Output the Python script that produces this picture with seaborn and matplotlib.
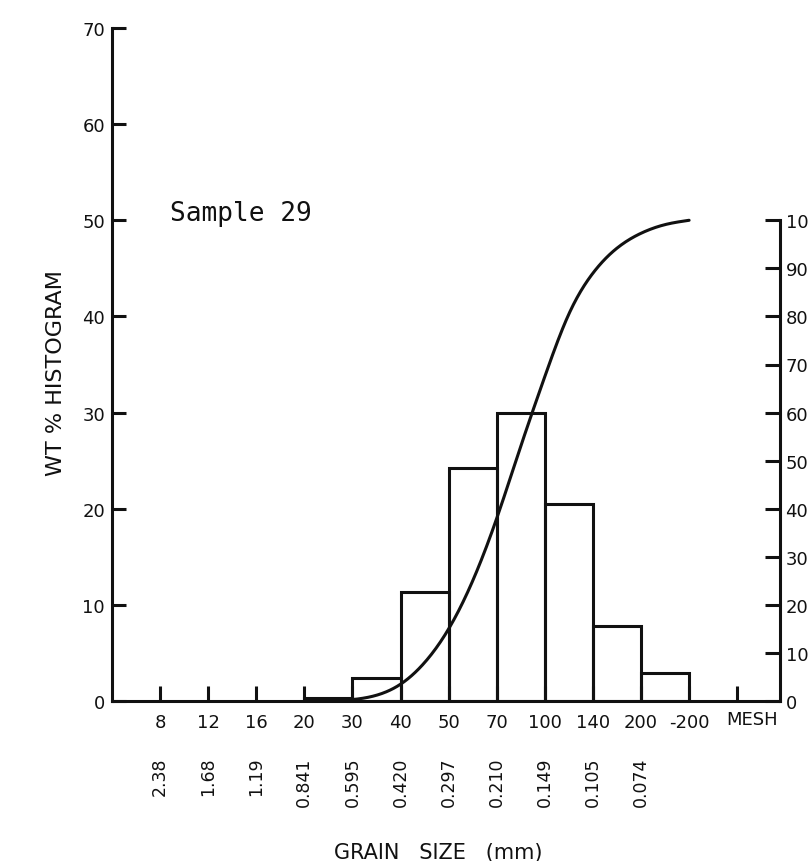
import numpy as np
import matplotlib
matplotlib.use("Agg")
import matplotlib.pyplot as plt
import seaborn as sns

# Sieve openings (mesh) and equivalent grain size in mm
mesh_labels = ["8", "12", "16", "20", "30", "40", "50", "70", "100", "140", "200", "-200"]
mm_labels = ["2.38", "1.68", "1.19", "0.841", "0.595", "0.420", "0.297",
             "0.210", "0.149", "0.105", "0.074"]

# Weight percent retained between successive sieves (20-30 ... 200 to -200)
bin_edges = [3, 4, 5, 6, 7, 8, 9, 10, 11]
wt_percent = [0.3, 2.4, 11.3, 24.2, 30.0, 20.5, 7.8, 2.9]

# Cumulative weight percent curve (right-hand scale)
cum_x = [3.5, 4.0, 4.5, 5.0, 5.5, 6.0, 6.5, 7.0, 7.5, 8.0, 8.5, 9.0, 9.5, 10.0, 10.5, 11.0]
cum_pct = [0.0, 0.3, 1.2, 3.5, 8.0, 15.0, 25.0, 38.0, 53.0, 67.5, 80.5, 89.0, 94.2, 97.3, 99.1, 100.0]


def natural_spline(x, y, xn):
    """Natural cubic spline through the given points."""
    x = np.asarray(x, float)
    y = np.asarray(y, float)
    n = len(x)
    h = np.diff(x)
    A = np.zeros((n, n))
    r = np.zeros(n)
    A[0, 0] = A[-1, -1] = 1.0
    for i in range(1, n - 1):
        A[i, i - 1] = h[i - 1]
        A[i, i] = 2 * (h[i - 1] + h[i])
        A[i, i + 1] = h[i]
        r[i] = 6 * ((y[i + 1] - y[i]) / h[i] - (y[i] - y[i - 1]) / h[i - 1])
    M = np.linalg.solve(A, r)
    k = np.clip(np.searchsorted(x, xn) - 1, 0, n - 2)
    dx1 = x[k + 1] - xn
    dx0 = xn - x[k]
    hk = h[k]
    return (M[k] * dx1**3 / (6 * hk) + M[k + 1] * dx0**3 / (6 * hk)
            + (y[k] / hk - M[k] * hk / 6) * dx1
            + (y[k + 1] / hk - M[k + 1] * hk / 6) * dx0)


sns.set_style("white")
plt.rcParams["font.family"] = ["DejaVu Sans"]

W, H = 809, 862
fig = plt.figure(figsize=(W / 100, H / 100), dpi=100)
ax = fig.add_axes([112 / W, 1 - 702 / H, (780 - 112) / W, (702 - 29) / H])

lw = 2.2
ink = "#111111"

centers = [(a + b) / 2 for a, b in zip(bin_edges[:-1], bin_edges[1:])]
sns.histplot(x=centers, weights=wt_percent, bins=bin_edges, fill=False,
             element="bars", color=ink, linewidth=lw, ax=ax)

ax.set_xlim(-1, 12.89)
ax.set_ylim(0, 70)
ax.set_xlabel("")
ax.set_ylabel("WT % HISTOGRAM", fontsize=16, color=ink)
ax.yaxis.set_label_coords(-0.069, 0.489)

ax.set_yticks(range(0, 71, 10))
ax.set_xticks(list(range(0, 13)))
ax.set_xticklabels(mesh_labels + [""])
ax.tick_params(axis="y", direction="in", length=10, width=lw, pad=5,
               labelsize=13, colors=ink, left=True)
ax.tick_params(axis="x", direction="in", length=11, width=lw, pad=9,
               labelsize=13, colors=ink, bottom=True)

for s in ["top", "right"]:
    ax.spines[s].set_visible(False)
for s in ["left", "bottom"]:
    ax.spines[s].set_linewidth(lw)
    ax.spines[s].set_color(ink)

ax.text(11.78, -0.027, "MESH", transform=ax.get_xaxis_transform(),
        ha="left", va="center", fontsize=13, color=ink)

for i, lab in enumerate(mm_labels):
    ax.text(i, -0.082, lab, transform=ax.get_xaxis_transform(),
            rotation=90, ha="center", va="top", fontsize=12.5, color=ink)

fig.text(438 / W, 1 - 853 / H, "GRAIN   SIZE   (mm)", ha="center",
         va="center", fontsize=15, color=ink)

ax.text(0.21, 50, "Sample 29", family="DejaVu Sans Mono", fontsize=18.8,
        ha="left", va="baseline", color=ink)

# Cumulative curve on the right-hand 0-100 scale
ax2 = ax.twinx()
ax2.set_ylim(0, 140)
xs = np.linspace(cum_x[0], cum_x[-1], 400)
ys = np.clip(natural_spline(cum_x, cum_pct, xs), 0, 100)
sns.lineplot(x=xs, y=ys, color=ink, linewidth=lw, ax=ax2)
ax2.set_yticks(range(0, 101, 10))
ax2.tick_params(axis="y", direction="in", length=11, width=lw, pad=4,
                labelsize=13, colors=ink, right=True)
for s in ["top", "left", "bottom"]:
    ax2.spines[s].set_visible(False)
ax2.spines["right"].set_bounds(0, 100)
ax2.spines["right"].set_linewidth(lw)
ax2.spines["right"].set_color(ink)
ax2.set_ylabel("")

fig.savefig("out.png", dpi=100, facecolor="white")
